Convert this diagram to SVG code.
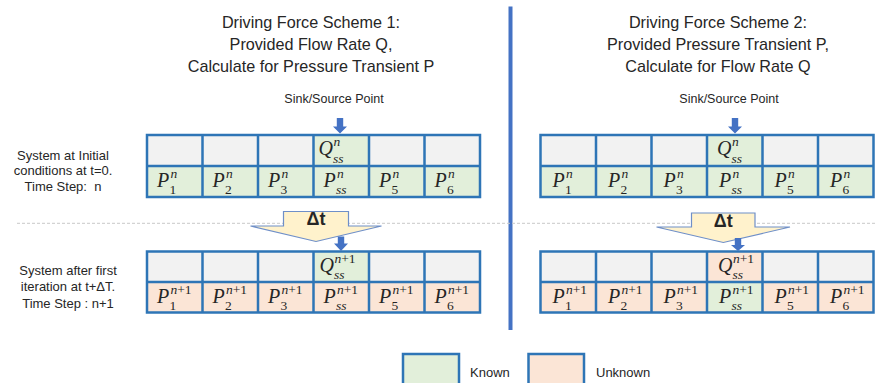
<svg xmlns="http://www.w3.org/2000/svg" width="875" height="383" viewBox="0 0 875 383">
<defs>
<style>
.t{font-family:"Liberation Sans",Arial,sans-serif;fill:#262626}
.h{font-size:16.2px;text-anchor:middle}
.l{font-size:13px;text-anchor:middle}
.k{font-size:12.5px;text-anchor:middle}
.m{font-family:"Liberation Serif","DejaVu Serif",serif;font-style:italic;font-size:20px;fill:#262626}
.s{font-size:13.5px}
.u{font-style:normal}
.g{fill:#F2F2F2}
.kn{fill:#E2EFDA}
.un{fill:#FBE5D6}
.grid{fill:none;stroke:#2E75B6;stroke-width:2.5}
.ba{fill:#4472C4}
.dt{fill:#FFF2CC;stroke:#6F8FC8;stroke-width:1.2}
.dtt{font-family:"Liberation Sans",Arial,sans-serif;font-weight:bold;font-size:18px;text-anchor:middle;fill:#262626}
</style>
</defs>
<rect width="875" height="383" fill="#fff"/>

<!-- titles -->
<g id="title1">
<text class="t h" x="311" y="28">Driving Force Scheme 1:</text>
<text class="t h" x="311" y="50">Provided Flow Rate Q,</text>
<text class="t h" x="311" y="72">Calculate for Pressure Transient P</text>
</g>
<g id="title2">
<text class="t h" x="718" y="28">Driving Force Scheme 2:</text>
<text class="t h" x="718" y="50">Provided Pressure Transient P,</text>
<text class="t h" x="718" y="72">Calculate for Flow Rate Q</text>
</g>

<!-- divider and dotted line -->
<g id="separators">
<line x1="510.5" y1="6.5" x2="510.5" y2="330" stroke="#4472C4" stroke-width="4"/>
<line x1="17" y1="223.3" x2="875" y2="223.3" stroke="#C8C8C8" stroke-width="1" stroke-dasharray="3 2"/>
</g>

<!-- row labels -->
<g id="label-initial">
<text class="t l" x="63" y="159.5">System at Initial</text>
<text class="t l" x="63" y="175">conditions at t=0.</text>
<text class="t l" x="63" y="191">Time Step:&#160; n</text>
</g>
<g id="label-after">
<text class="t l" x="68" y="274.5">System after first</text>
<text class="t l" x="68" y="291">iteration at t+ΔT.</text>
<text class="t l" x="68" y="307.5">Time Step : n+1</text>
</g>

<!-- sink/source labels -->
<g id="sink1"><text class="t k" x="334" y="103">Sink/Source Point</text></g>
<g id="sink2"><text class="t k" x="729" y="103">Sink/Source Point</text></g>

<!-- Left grid, time n -->
<g id="grid1-n">
<rect class="g" x="147" y="135" width="333" height="31"/>
<rect class="kn" x="313.5" y="135" width="55.5" height="31"/>
<rect class="kn" x="147" y="166" width="333" height="31"/>
<path class="grid" d="M147 135H480V197H147Z M147 166H480 M202.5 135V197 M258 135V197 M313.5 135V197 M369 135V197 M424.5 135V197"/>
<text class="m" x="318.5" y="155">Q</text><text class="m s" x="333.5" y="146">n</text><text class="m s" x="333" y="162.5">ss</text>
<text class="m" x="157" y="187">P</text><text class="m s" x="170.5" y="177.5">n</text><text class="m s u" x="169.5" y="193.5">1</text>
<text class="m" x="212.5" y="187">P</text><text class="m s" x="226" y="177.5">n</text><text class="m s u" x="225" y="193.5">2</text>
<text class="m" x="268" y="187">P</text><text class="m s" x="281.5" y="177.5">n</text><text class="m s u" x="280.5" y="193.5">3</text>
<text class="m" x="323.5" y="187">P</text><text class="m s" x="337" y="177.5">n</text><text class="m s" x="336" y="193.5">ss</text>
<text class="m" x="379" y="187">P</text><text class="m s" x="392.5" y="177.5">n</text><text class="m s u" x="391.5" y="193.5">5</text>
<text class="m" x="434.5" y="187">P</text><text class="m s" x="448" y="177.5">n</text><text class="m s u" x="447" y="193.5">6</text>
</g>

<!-- Left grid, time n+1 -->
<g id="grid1-n1">
<rect class="g" x="147" y="251.5" width="333" height="30.5"/>
<rect class="kn" x="313.5" y="251.5" width="55.5" height="30.5"/>
<rect class="un" x="147" y="282" width="333" height="30.5"/>
<path class="grid" d="M147 251.5H480V312.5H147Z M147 282H480 M202.5 251.5V312.5 M258 251.5V312.5 M313.5 251.5V312.5 M369 251.5V312.5 M424.5 251.5V312.5"/>
<text class="m" x="319.5" y="271.5">Q</text><text class="m s" x="334.5" y="262.5">n<tspan class="u">+1</tspan></text><text class="m s" x="334" y="279">ss</text>
<text class="m" x="157" y="303">P</text><text class="m s" x="170.5" y="293.5">n<tspan class="u">+1</tspan></text><text class="m s u" x="169.5" y="309.5">1</text>
<text class="m" x="212.5" y="303">P</text><text class="m s" x="226" y="293.5">n<tspan class="u">+1</tspan></text><text class="m s u" x="225" y="309.5">2</text>
<text class="m" x="268" y="303">P</text><text class="m s" x="281.5" y="293.5">n<tspan class="u">+1</tspan></text><text class="m s u" x="280.5" y="309.5">3</text>
<text class="m" x="323.5" y="303">P</text><text class="m s" x="337" y="293.5">n<tspan class="u">+1</tspan></text><text class="m s" x="336" y="309.5">ss</text>
<text class="m" x="379" y="303">P</text><text class="m s" x="392.5" y="293.5">n<tspan class="u">+1</tspan></text><text class="m s u" x="391.5" y="309.5">5</text>
<text class="m" x="434.5" y="303">P</text><text class="m s" x="448" y="293.5">n<tspan class="u">+1</tspan></text><text class="m s u" x="447" y="309.5">6</text>
</g>

<!-- Right grid, time n -->
<g id="grid2-n">
<rect class="g" x="540.5" y="135" width="333" height="31"/>
<rect class="kn" x="707" y="135" width="55.5" height="31"/>
<rect class="kn" x="540.5" y="166" width="333" height="31"/>
<path class="grid" d="M540.5 135H873.5V197H540.5Z M540.5 166H873.5 M596 135V197 M651.5 135V197 M707 135V197 M762.5 135V197 M818 135V197"/>
<text class="m" x="717" y="155">Q</text><text class="m s" x="732" y="146">n</text><text class="m s" x="731.5" y="162.5">ss</text>
<text class="m" x="552.5" y="187">P</text><text class="m s" x="566" y="177.5">n</text><text class="m s u" x="565" y="193.5">1</text>
<text class="m" x="608" y="187">P</text><text class="m s" x="621.5" y="177.5">n</text><text class="m s u" x="620.5" y="193.5">2</text>
<text class="m" x="663.5" y="187">P</text><text class="m s" x="677" y="177.5">n</text><text class="m s u" x="676" y="193.5">3</text>
<text class="m" x="719" y="187">P</text><text class="m s" x="732.5" y="177.5">n</text><text class="m s" x="731.5" y="193.5">ss</text>
<text class="m" x="774.5" y="187">P</text><text class="m s" x="788" y="177.5">n</text><text class="m s u" x="787" y="193.5">5</text>
<text class="m" x="830" y="187">P</text><text class="m s" x="843.5" y="177.5">n</text><text class="m s u" x="842.5" y="193.5">6</text>
</g>

<!-- Right grid, time n+1 -->
<g id="grid2-n1">
<rect class="g" x="540.5" y="251.5" width="333" height="30.5"/>
<rect class="un" x="707" y="251.5" width="55.5" height="30.5"/>
<rect class="un" x="540.5" y="282" width="333" height="30.5"/>
<rect class="kn" x="707" y="282" width="55.5" height="30.5"/>
<path class="grid" d="M540.5 251.5H873.5V312.5H540.5Z M540.5 282H873.5 M596 251.5V312.5 M651.5 251.5V312.5 M707 251.5V312.5 M762.5 251.5V312.5 M818 251.5V312.5"/>
<text class="m" x="718" y="271.5">Q</text><text class="m s" x="733" y="262.5">n<tspan class="u">+1</tspan></text><text class="m s" x="732.5" y="279">ss</text>
<text class="m" x="552.5" y="303">P</text><text class="m s" x="566" y="293.5">n<tspan class="u">+1</tspan></text><text class="m s u" x="565" y="309.5">1</text>
<text class="m" x="608" y="303">P</text><text class="m s" x="621.5" y="293.5">n<tspan class="u">+1</tspan></text><text class="m s u" x="620.5" y="309.5">2</text>
<text class="m" x="663.5" y="303">P</text><text class="m s" x="677" y="293.5">n<tspan class="u">+1</tspan></text><text class="m s u" x="676" y="309.5">3</text>
<text class="m" x="719" y="303">P</text><text class="m s" x="732.5" y="293.5">n<tspan class="u">+1</tspan></text><text class="m s" x="731.5" y="309.5">ss</text>
<text class="m" x="774.5" y="303">P</text><text class="m s" x="788" y="293.5">n<tspan class="u">+1</tspan></text><text class="m s u" x="787" y="309.5">5</text>
<text class="m" x="830" y="303">P</text><text class="m s" x="843.5" y="293.5">n<tspan class="u">+1</tspan></text><text class="m s u" x="842.5" y="309.5">6</text>
</g>

<!-- Delta t block arrows -->
<g id="dt1">
<polygon class="dt" points="283.5,211.5 348.5,211.5 348.5,226 381.5,226 316,241.5 250.5,226 283.5,226"/>
<text class="dtt" x="316" y="225">Δt</text>
</g>
<g id="dt2">
<polygon class="dt" points="691.5,213 755,213 755,227 790,227 723.3,242.5 656.5,227 691.5,227"/>
<text class="dtt" x="723.3" y="226.5">Δt</text>
</g>

<!-- connectors -->
<g id="connectors">
<polygon class="ba" points="336.8,118 343.2,118 343.2,126.5 347,126.5 340,133.5 333,126.5 336.8,126.5"/>
<polygon class="ba" points="731.8,118 738.2,118 738.2,126.5 742,126.5 735,133.5 728,126.5 731.8,126.5"/>
<polygon class="ba" points="337.8,236.5 344.2,236.5 344.2,243.5 348,243.5 341,251 334,243.5 337.8,243.5"/>
<polygon class="ba" points="734.8,238 741.2,238 741.2,245 745,245 738,251 731,245 734.8,245"/>
</g>

<!-- legend -->
<g id="legend-known">
<rect class="kn" x="403" y="354" width="56" height="38" stroke="#2E75B6" stroke-width="2.5"/>
<text class="t" x="470" y="376.5" font-size="13">Known</text>
</g>
<g id="legend-unknown">
<rect class="un" x="528.5" y="354" width="55.5" height="38" stroke="#2E75B6" stroke-width="2.5"/>
<text class="t" x="596" y="376.5" font-size="13">Unknown</text>
</g>
</svg>
